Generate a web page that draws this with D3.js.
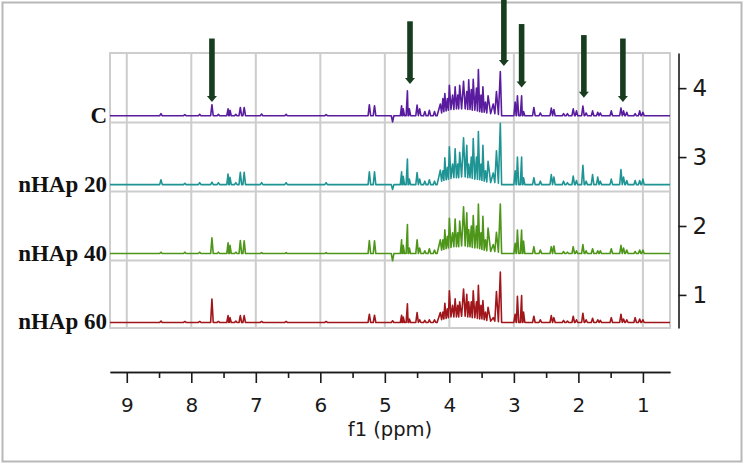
<!DOCTYPE html>
<html>
<head>
<meta charset="utf-8">
<script src="https://cdn.jsdelivr.net/npm/d3@7"></script>
<style>
  body { margin: 0; background: #fff; }
  svg { display: block; }
</style>
</head>
<body>
<div id="chart"></div>
<script>
// series names and baseline offsets on the right axis
const seriesNames = ["C", "nHAp 20", "nHAp 40", "nHAp 60"];
const seriesOffsets = [3.6, 2.6, 1.6, 0.6];
const seriesColors = ["#5a1c9e", "#1f9494", "#4d9619", "#a0161b"];

// isolated peaks (ppm) shared by all spectra
const peakPpm = [8.47, 8.10, 7.87, 7.68, 7.58, 7.43, 7.40, 7.31, 7.24, 7.18,
  6.91, 6.53, 5.91, 5.24, 5.16, 4.88, 4.74, 4.715, 4.65, 4.62,
  4.50, 4.46, 4.38, 4.31, 4.23, 2.98, 2.945, 2.88, 2.85, 2.69,
  2.59, 2.42, 2.38, 2.23, 2.17, 2.08, 2.03, 1.93, 1.88, 1.78,
  1.70, 1.66, 1.49, 1.34, 1.30, 1.25, 1.12, 1.05, 1.00];

const peaksC = [0.03, 0.015, 0.02, 0.16, 0.02, 0.10, 0.08, 0.02, 0.12, 0.12,
  0.025, 0.02, 0.015, 0.16, 0.145, -0.09, 0.145, 0.10, 0.36, 0.10,
  0.155, 0.10, 0.06, 0.08, 0.06, 0.20, 0.29, 0.29, 0.06, 0.12,
  0.04, 0.11, 0.09, 0.03, 0.03, 0.10, 0.07, 0.14, 0.04, 0.07,
  0.05, 0.04, 0.07, 0.11, 0.07, 0.05, 0.03, 0.07, 0.05];
const peaks20 = [0.07, 0.02, 0.03, 0.035, 0.03, 0.155, 0.105, 0.03, 0.18, 0.18,
  0.03, 0.03, 0.03, 0.185, 0.185, -0.07, 0.185, 0.12, 0.37, 0.08,
  0.175, 0.08, 0.05, 0.07, 0.05, 0.20, 0.40, 0.40, 0.10, 0.10,
  0.05, 0.145, 0.11, 0.05, 0.03, 0.125, 0.06, 0.28, 0.05, 0.145,
  0.11, 0.05, 0.08, 0.22, 0.11, 0.06, 0.06, 0.06, 0.08];
const peaks40 = [0.02, 0.02, 0.02, 0.23, 0.02, 0.155, 0.12, 0.02, 0.19, 0.185,
  0.015, 0.015, 0.015, 0.19, 0.185, -0.105, 0.20, 0.12, 0.42, 0.08,
  0.20, 0.08, 0.04, 0.07, 0.05, 0.15, 0.34, 0.34, 0.18, 0.10,
  0.05, 0.10, 0.11, 0.03, 0.02, 0.10, 0.04, 0.13, 0.04, 0.07,
  0.04, 0.04, 0.07, 0.12, 0.08, 0.05, 0.03, 0.05, 0.05];
const peaks60 = [0.02, 0.015, 0.015, 0.34, 0.015, 0.10, 0.07, 0.02, 0.10, 0.10,
  0.015, 0.015, 0.015, 0.12, 0.105, 0.025, 0.105, 0.08, 0.27, 0.05,
  0.145, 0.04, 0.03, 0.04, 0.04, 0.12, 0.38, 0.39, 0.15, 0.09,
  0.04, 0.10, 0.07, 0.03, 0.02, 0.09, 0.04, 0.135, 0.04, 0.06,
  0.04, 0.03, 0.07, 0.12, 0.05, 0.04, 0.07, 0.05, 0.04];

// dense sugar region 4.2 - 3.2 ppm: alternating valley / peak vertices
const clusterPpm = [4.19, 4.14, 4.12, 4.10, 4.085, 4.07, 4.05, 4.03, 4.015, 4.00,
  3.975, 3.95, 3.93, 3.91, 3.89, 3.87, 3.855, 3.84, 3.81, 3.78,
  3.755, 3.73, 3.715, 3.70, 3.68, 3.66, 3.645, 3.63, 3.605, 3.58,
  3.565, 3.55, 3.53, 3.51, 3.495, 3.48, 3.46, 3.44, 3.42, 3.40,
  3.36, 3.32, 3.295, 3.27, 3.24, 3.21, 3.19];

const clusterC = [0, 0.17, 0.04, 0.25, 0.06, 0.32, 0.07, 0.25, 0.08, 0.44,
  0.09, 0.30, 0.09, 0.42, 0.10, 0.30, 0.10, 0.44, 0.10, 0.50,
  0.10, 0.35, 0.09, 0.52, 0.09, 0.38, 0.08, 0.53, 0.08, 0.40,
  0.07, 0.67, 0.06, 0.30, 0.05, 0.42, 0.05, 0.20, 0.04, 0.29,
  0.03, 0.17, 0.03, 0.35, 0.02, 0.64, 0];
const cluster20 = [0, 0.21, 0.05, 0.20, 0.06, 0.39, 0.07, 0.25, 0.08, 0.55,
  0.09, 0.30, 0.10, 0.52, 0.10, 0.30, 0.10, 0.47, 0.11, 0.68,
  0.11, 0.57, 0.10, 0.30, 0.10, 0.40, 0.09, 0.67, 0.08, 0.40,
  0.08, 0.77, 0.07, 0.30, 0.06, 0.57, 0.05, 0.20, 0.04, 0.34,
  0.03, 0.17, 0.03, 0.49, 0.02, 0.89, 0];
const cluster40 = [0, 0.20, 0.05, 0.20, 0.06, 0.345, 0.07, 0.25, 0.08, 0.51,
  0.09, 0.30, 0.10, 0.50, 0.10, 0.30, 0.10, 0.47, 0.11, 0.68,
  0.11, 0.59, 0.10, 0.35, 0.10, 0.40, 0.09, 0.55, 0.08, 0.40,
  0.08, 0.72, 0.07, 0.30, 0.06, 0.54, 0.05, 0.20, 0.04, 0.37,
  0.03, 0.13, 0.03, 0.31, 0.02, 0.72, 0];
const cluster60 = [0, 0.145, 0.04, 0.15, 0.05, 0.28, 0.06, 0.20, 0.07, 0.46,
  0.08, 0.25, 0.08, 0.345, 0.08, 0.25, 0.08, 0.30, 0.09, 0.485,
  0.09, 0.41, 0.08, 0.30, 0.08, 0.30, 0.07, 0.46, 0.07, 0.30,
  0.06, 0.54, 0.05, 0.25, 0.05, 0.32, 0.04, 0.15, 0.03, 0.22,
  0.02, 0.07, 0.02, 0.45, 0.01, 0.73, 0];

const seriesPeaks = [peaksC, peaks20, peaks40, peaks60];
const seriesCluster = [clusterC, cluster20, cluster40, cluster60];

// annotation arrows: ppm, top and tip in right-axis units
const arrowPpm = [7.68, 4.61, 3.155, 2.88, 1.915, 1.31];
const arrowTop = [4.72, 4.97, 5.35, 4.93, 4.77, 4.72];
const arrowTip = [3.80, 4.06, 4.32, 4.01, 3.86, 3.80];

const xTicks = [9, 8, 7, 6, 5, 4, 3, 2, 1];
const xMinorTicks = [8.5, 7.5, 6.5, 5.5, 4.5, 3.5, 2.5, 1.5];
const yTicks = [1, 2, 3, 4];
const panelBreaks = [1.5, 2.5, 3.5];

const width = 744, height = 464;
const peakW = 0.02;

const x = d3.scaleLinear().domain([9.26, 0.58]).range([110, 670]);
const y = d3.scaleLinear().domain([0.52, 4.51]).range([328, 53]);

const svg = d3.select("#chart").append("svg")
  .attr("width", width)
  .attr("height", height);

svg.append("rect")
  .attr("x", 2.5).attr("y", 2.5)
  .attr("width", width - 5).attr("height", height - 5)
  .attr("fill", "#fff")
  .attr("stroke", "#b8b8b8")
  .attr("stroke-width", 2);

// vertical grid
svg.append("g").selectAll("line")
  .data(xTicks)
  .join("line")
  .attr("x1", d => x(d)).attr("x2", d => x(d))
  .attr("y1", y.range()[1]).attr("y2", y.range()[0])
  .attr("stroke", "#cdcdcd")
  .attr("stroke-width", 2);

// panel separators
svg.append("g").selectAll("line")
  .data(panelBreaks)
  .join("line")
  .attr("x1", x.range()[0]).attr("x2", x.range()[1])
  .attr("y1", d => y(d)).attr("y2", d => y(d))
  .attr("stroke", "#cdcdcd")
  .attr("stroke-width", 2);

svg.append("rect")
  .attr("x", x.range()[0]).attr("y", y.range()[1])
  .attr("width", x.range()[1] - x.range()[0])
  .attr("height", y.range()[0] - y.range()[1])
  .attr("fill", "none")
  .attr("stroke", "#cdcdcd")
  .attr("stroke-width", 2);

function tracePoints(heights, cluster, offset) {
  let pts = [[x.domain()[0], 0], [x.domain()[1], 0]];
  peakPpm.forEach((p, i) => {
    pts.push([p + peakW, 0], [p, heights[i]], [p - peakW, 0]);
  });
  clusterPpm.forEach((p, i) => pts.push([p, cluster[i]]));
  pts.sort((a, b) => b[0] - a[0]);
  return pts.map(d => [d[0], d[1] + offset]);
}

const line = d3.line().x(d => x(d[0])).y(d => y(d[1]));

seriesNames.forEach((name, i) => {
  svg.append("path")
    .datum(tracePoints(seriesPeaks[i], seriesCluster[i], seriesOffsets[i]))
    .attr("fill", "none")
    .attr("stroke", seriesColors[i])
    .attr("stroke-width", 1.6)
    .attr("stroke-linejoin", "round")
    .attr("d", line);

  svg.append("text")
    .attr("x", 107)
    .attr("y", y(seriesOffsets[i]) + 7)
    .attr("text-anchor", "end")
    .attr("font-family", "'Liberation Serif', 'Times New Roman', serif")
    .attr("font-weight", "bold")
    .attr("font-size", 23)
    .attr("fill", "#111")
    .text(name);
});

// arrows
const arrows = svg.append("g").attr("fill", "#183c1f");
arrowPpm.forEach((p, i) => {
  let cx = x(p), top = y(arrowTop[i]), tip = y(arrowTip[i]);
  arrows.append("rect")
    .attr("x", cx - 2.8).attr("y", top)
    .attr("width", 5.6).attr("height", tip - top - 5);
  arrows.append("path")
    .attr("d", `M ${cx - 5} ${tip - 6} L ${cx + 5} ${tip - 6} L ${cx} ${tip} Z`);
});

// bottom axis
const xAxis = svg.append("g")
  .attr("transform", "translate(0,372)")
  .call(d3.axisBottom(x).tickValues(xTicks).tickFormat(d3.format("d"))
    .tickSizeInner(11).tickSizeOuter(0).tickPadding(15));
xAxis.append("g").call(d3.axisBottom(x).tickValues(xMinorTicks).tickFormat("")
  .tickSizeInner(6).tickSizeOuter(0));
xAxis.selectAll("path, line").attr("stroke", "#1a1a1a").attr("stroke-width", 1.6);
xAxis.selectAll("text")
  .attr("font-family", "'DejaVu Sans', Verdana, sans-serif")
  .attr("font-size", 20)
  .attr("fill", "#1a1a1a");

svg.append("text")
  .attr("x", (x.range()[0] + x.range()[1]) / 2)
  .attr("y", 436)
  .attr("text-anchor", "middle")
  .attr("font-family", "'DejaVu Sans', Verdana, sans-serif")
  .attr("font-size", 19.5)
  .attr("fill", "#1a1a1a")
  .text("f1 (ppm)");

// right axis
const yAxis = svg.append("g")
  .attr("transform", "translate(678.5,0)")
  .call(d3.axisRight(y).tickValues(yTicks).tickFormat(d3.format("d"))
    .tickSizeInner(8).tickSizeOuter(0).tickPadding(6));
yAxis.selectAll("path, line").attr("stroke", "#1a1a1a").attr("stroke-width", 1.6);
yAxis.selectAll("text")
  .attr("font-family", "'DejaVu Sans', Verdana, sans-serif")
  .attr("font-size", 23)
  .attr("fill", "#1a1a1a");
</script>
</body>
</html>
